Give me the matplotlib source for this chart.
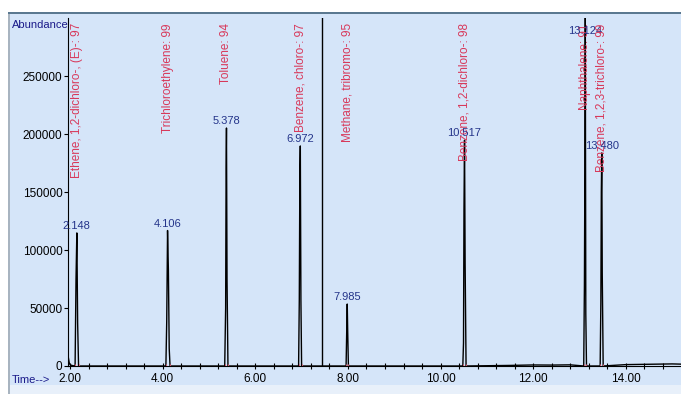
import matplotlib.pyplot as plt
from matplotlib.patches import Rectangle

# total ion chromatogram, sampled points (min, abundance)
tiempo = [1.957, 1.97, 1.985, 2.0, 2.03, 2.06, 2.11,
          2.13, 2.148, 2.165, 2.185,
          3.2, 4.07, 4.088, 4.106, 4.124, 4.142, 4.16,
          5.34, 5.36, 5.37, 5.378, 5.39, 5.41,
          6.935, 6.95, 6.962, 6.972, 6.985, 7.0,
          7.96, 7.975, 7.985, 7.995, 8.01,
          10.48, 10.495, 10.505, 10.517, 10.53, 10.55,
          11.5, 12.0, 12.4, 12.8,
          13.09, 13.105, 13.115, 13.124, 13.135, 13.15,
          13.445, 13.46, 13.47, 13.48, 13.49, 13.51,
          14.0, 14.5, 15.0, 15.19]
abundancia = [9000, 6000, 2500, 1200, 600, 300, 0,
              75000, 114900, 37000, 0,
              0, 0, 38000, 117000, 83000, 15000, 0,
              0, 50000, 170000, 205500, 75000, 0,
              0, 57000, 165000, 190000, 57000, 0,
              0, 33000, 53500, 30000, 0,
              0, 20000, 135000, 195000, 88000, 0,
              500, 900, 800, 1000,
              0, 70000, 170000, 300500, 45000, 0,
              0, 55000, 150000, 184000, 80000, 0,
              1200, 1500, 1800, 1600]

# identified peaks
rt = [2.148, 4.106, 5.378, 6.972, 7.985, 10.517, 13.124, 13.480]
altura = [114900, 117000, 205500, 190000, 53500, 195000, 300500, 184000]
compuestos = ["Ethene, 1,2-dichloro-, (E)-: 97", "Trichloroethylene: 99",
              "Toluene: 94", "Benzene, chloro-: 97", "Methane, tribromo-: 95",
              "Benzene, 1,2-dichloro-: 98", "Naphthalene: 91",
              "Benzene, 1,2,3-trichloro-: 99"]
inicio = [2.11, 4.07, 5.34, 6.935, 7.96, 10.48, 13.09, 13.445]
fin = [2.185, 4.16, 5.41, 7.0, 8.01, 10.55, 13.15, 13.51]
cursor_t = 7.45

fondo = '#d5e5f9'
fig = plt.figure(figsize=(6.81, 3.94), dpi=100)
fig.patch.set_facecolor('white')
fig.add_artist(Rectangle((10/681, 9/394), 671/681, 371/394, transform=fig.transFigure,
                         facecolor=fondo, edgecolor='none', zorder=0))
fig.add_artist(Rectangle((10/681, 0), 671/681, 9/394, transform=fig.transFigure,
                         facecolor='#e8f0fa', edgecolor='none', zorder=0))
fig.add_artist(Rectangle((8/681, 0), 2/681, 381/394, transform=fig.transFigure,
                         facecolor='#a8b4c0', edgecolor='none', zorder=0))
fig.add_artist(Rectangle((8/681, 380/394), 673/681, 2/394, transform=fig.transFigure,
                         facecolor='#5a7890', edgecolor='none', zorder=0))

ax = fig.add_axes([68/681, 28/394, 613/681, 348/394])
ax.set_facecolor('none')
ax.plot(tiempo, abundancia, color='black', lw=1.0, clip_on=True)
ax.plot(inicio + fin, [0] * (len(inicio) + len(fin)), ls='none', marker='|',
        ms=3, color='#e05a70', mew=0.8)
ax.axvline(cursor_t, color='black', lw=1.0)

ax.set_xlim(1.957, 15.19)
ax.set_ylim(0, 300500)
for s in ['top', 'right']:
    ax.spines[s].set_visible(False)
ax.set_xticks([2, 4, 6, 8, 10, 12, 14])
ax.set_xticklabels(['2.00', '4.00', '6.00', '8.00', '10.00', '12.00', '14.00'])
ax.set_xticks([2.4, 2.8, 3.2, 3.6, 4.4, 4.8, 5.2, 5.6, 6.4, 6.8, 7.2, 7.6,
               8.4, 8.8, 9.2, 9.6, 10.4, 10.8, 11.2, 11.6, 12.4, 12.8, 13.2,
               13.6, 14.4, 14.8], minor=True)
ax.set_yticks([0, 50000, 100000, 150000, 200000, 250000])
ax.set_yticklabels(['0', '50000', '100000', '150000', '200000', '250000'])
ax.tick_params(axis='x', which='both', direction='inout', length=4, width=0.8,
               labelsize=8.5, pad=3, colors='black')
ax.tick_params(axis='y', length=3, width=0.8, labelsize=8.5, pad=1)

for t, h, nombre in zip(rt, altura, compuestos):
    ax.text(t, 296000, nombre, rotation=90, ha='center', va='top',
            color='#d8385a', fontsize=8.5, family='Liberation Sans')
    ax.text(t, min(h + 1500, 285000), f'{t:.3f}', ha='center', va='bottom',
            color='#24348a', fontsize=8, family='Liberation Sans')

fig.text(12/681, 1 - 25/394, 'Abundance', color='#1a1a8a', fontsize=8,
         family='Liberation Sans', va='center', ha='left')
fig.text(12/681, 1 - 380/394, 'Time-->', color='#1a1a8a', fontsize=8,
         family='Liberation Sans', va='center', ha='left')
for lab in ax.get_xticklabels() + ax.get_yticklabels():
    lab.set_family('Liberation Sans')

fig.savefig('out.png', dpi=100)
